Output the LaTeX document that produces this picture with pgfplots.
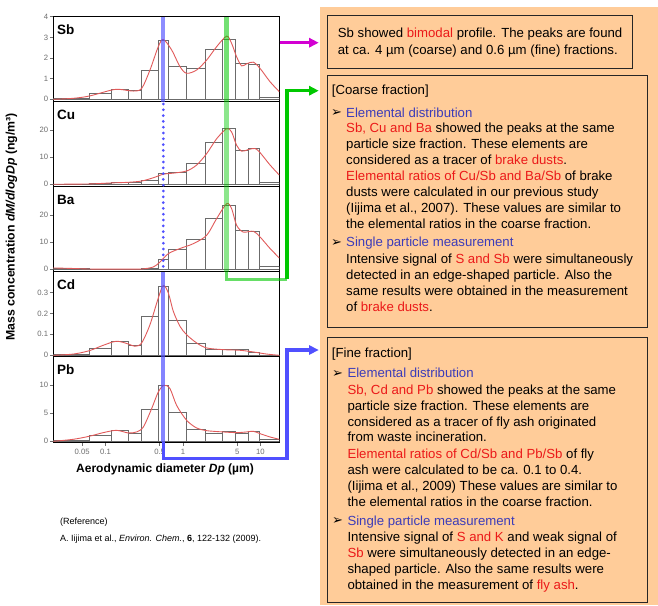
\documentclass[border=0pt]{standalone}
\usepackage{fontspec}
\setmainfont{Liberation Sans}
\newfontfamily\dejavu{DejaVu Sans}
\usepackage{pgfplots}
\pgfplotsset{compat=1.18}
\usetikzlibrary{arrows.meta}
\definecolor{peach}{RGB}{255,204,153}
\definecolor{tred}{RGB}{235,25,25}
\definecolor{tblue}{RGB}{60,60,185}
\definecolor{cred}{RGB}{225,90,90}
\definecolor{lblue}{RGB}{80,80,255}
\definecolor{lgreen}{RGB}{0,200,0}
\definecolor{lmag}{RGB}{210,0,210}
\definecolor{tickgray}{RGB}{110,110,110}
\newcommand{\R}[1]{\textcolor{tred}{#1}}
\newcommand{\tl}[3]{\node[anchor=base west, inner sep=0pt, font=\fontsize{13.2}{16}\selectfont] at (#1,-#2) {#3};}
\newcommand{\bul}[2]{\node[anchor=base west, inner sep=0pt, font=\dejavu\fontsize{13}{14}\selectfont] at (#1,-#2) {➢};}
\pgfplotsset{
  every axis/.append style={scale only axis, width=226pt, height=85.1pt,
    xmin=0.0212, xmax=17.5,
    axis line style={line width=1.1pt, black},
    tick align=outside, major tick length=3.5pt,
    tick style={tickgray, line width=0.5pt},
    ytick pos=left,
    yticklabel style={font=\fontsize{7.7}{8}\selectfont, text=tickgray, inner sep=1.5pt},
    xticklabel style={font=\fontsize{7.7}{8}\selectfont, text=tickgray},
    /pgf/number format/assume math mode=true},
  elhist/.style={ybar interval, draw=black!58, fill=none, line width=0.8pt},
  elfit/.style={cred, line width=0.9pt, smooth, mark=none}
}
\begin{document}
\begin{tikzpicture}[x=1pt,y=1pt]
\path[use as bounding box] (0,0) rectangle (658,-605);
\fill[white] (0,0) rectangle (658,-605);
\fill[peach] (320,-7) rectangle (658,-605);
\draw[black!85, line width=0.9pt] (327,-15) rectangle (632,-68);
\draw[black!85, line width=0.9pt] (327,-75) rectangle (647,-327);
\draw[black!85, line width=0.9pt] (327,-337) rectangle (647,-602);

% Sb
\begin{axis}[xmode=log, xtick=\empty, xminorticks=false, at={(53.3pt,-101.6pt)}, anchor=south west, ymin=-0.11, ymax=4.01, ytick={0,1,2,3,4}]
\addplot[elhist] coordinates {(0.0212,0.05) (0.0618,0.3) (0.120,0.48) (0.197,0.42) (0.293,1.42) (0.480,2.85) (0.647,1.6) (1.115,1.5) (1.92,2.42) (3.25,2.9) (4.69,1.74) (6.97,1.71) (9.66,0.08) (17.5,0)};
\addplot[elfit] coordinates {(0.0212,0.0) (0.0385,0.05) (0.0618,0.16) (0.120,0.45) (0.154,0.48) (0.229,0.40) (0.293,0.53) (0.375,1.42) (0.480,2.55) (0.557,2.9) (0.714,2.39) (0.915,1.58) (1.115,1.26) (1.50,1.42) (2.02,1.9) (2.72,2.55) (3.66,3.06) (4.24,2.71) (4.92,2.06) (5.71,1.62) (6.63,1.72) (8.08,1.8) (9.86,1.5) (13.3,0.85) (17.5,0.37)};
\end{axis}
% Cu
\begin{axis}[xmode=log, xtick=\empty, xminorticks=false, at={(53.3pt,-186.7pt)}, anchor=south west, ymin=-0.9, ymax=30.5, ytick={0,10,20}]
\addplot[elhist] coordinates {(0.0212,0.1) (0.0618,0.25) (0.120,0.6) (0.197,0.6) (0.293,1.6) (0.480,4.0) (0.647,4.4) (1.115,7.7) (1.92,15.6) (3.25,20.5) (4.69,12.6) (6.97,13.2) (9.66,0.8) (17.5,0)};
\addplot[elfit] coordinates {(0.0212,0) (0.0618,0.12) (0.120,0.5) (0.197,0.73) (0.293,1.2) (0.414,2.4) (0.557,3.7) (0.750,4.1) (1.115,4.9) (1.50,7.1) (2.02,11.3) (2.72,16.8) (3.66,20.5) (4.24,19.3) (4.92,14.4) (5.71,12.2) (6.97,12.8) (8.49,13.2) (9.86,11.7) (13.3,7.1) (17.5,3.4)};
\end{axis}
% Ba
\begin{axis}[xmode=log, xtick=\empty, xminorticks=false, at={(53.3pt,-271.8pt)}, anchor=south west, ymin=-0.93, ymax=30.6, ytick={0,10,20}]
\addplot[elhist] coordinates {(0.0212,0.4) (0.0618,0.1) (0.120,0.1) (0.197,0.1) (0.293,0.5) (0.480,3.7) (0.647,7.4) (1.115,11.1) (1.92,19.0) (3.25,23.7) (4.69,14.4) (6.97,14.1) (9.66,1.2) (17.5,0)};
\addplot[elfit] coordinates {(0.0212,0.5) (0.0385,0.3) (0.0618,0.1) (0.120,0.05) (0.197,0.05) (0.293,0.1) (0.414,0.86) (0.505,2.7) (0.647,5.8) (0.915,7.7) (1.36,9.5) (2.02,12.6) (2.72,18.8) (3.66,24.3) (4.24,22.5) (4.92,16.3) (6.00,13.8) (8.08,14.1) (9.86,12) (13.3,7.7) (17.5,4.2)};
\end{axis}
% Cd
\begin{axis}[xmode=log, xtick=\empty, xminorticks=false, at={(53.3pt,-356.9pt)}, anchor=south west, ymin=-0.0076, ymax=0.398, ytick={0,0.1,0.2,0.3}, yticklabels={0,0.1,0.2,0.3}]
\addplot[elhist] coordinates {(0.0212,0.005) (0.0618,0.035) (0.120,0.067) (0.197,0.046) (0.293,0.186) (0.480,0.33) (0.647,0.165) (1.115,0.059) (1.92,0.03) (3.25,0.027) (4.69,0.027) (6.97,0.016) (9.66,0.0) (17.5,0)};
\addplot[elfit] coordinates {(0.0212,0) (0.0385,0.006) (0.0618,0.022) (0.0938,0.048) (0.139,0.067) (0.197,0.054) (0.240,0.043) (0.293,0.059) (0.375,0.146) (0.480,0.273) (0.557,0.333) (0.647,0.297) (0.750,0.21) (0.915,0.138) (1.115,0.098) (1.50,0.059) (2.02,0.035) (3.31,0.027) (5.44,0.024) (8.08,0.016) (12.0,0.006) (17.5,0)};
\end{axis}
% Pb
\begin{axis}[xmode=log, xminorticks=false, at={(53.3pt,-442pt)}, anchor=south west, ymin=-0.125, ymax=15.07, ytick={0,5,10},
  xtick={0.05,0.1,0.5,1,5,10}, xticklabels={0.05,0.1,0.5,1,5,10}, xtick pos=bottom]
\addplot[elhist] coordinates {(0.0212,0.1) (0.0618,1.07) (0.120,1.96) (0.197,1.37) (0.293,5.7) (0.480,10.0) (0.647,5.24) (1.115,2.14) (1.92,1.5) (3.25,1.8) (4.69,1.37) (6.97,1.8) (9.66,0.3) (17.5,0)};
\addplot[elfit] coordinates {(0.0212,0) (0.0385,0.36) (0.0618,0.9) (0.0938,1.55) (0.139,1.96) (0.197,1.49) (0.252,1.67) (0.308,2.56) (0.394,5.83) (0.480,8.8) (0.569,10.0) (0.680,9.4) (0.829,6.4) (1.115,3.75) (1.50,2.38) (2.02,1.9) (3.31,1.67) (4.92,1.55) (6.63,1.67) (8.08,1.79) (9.86,1.37) (13.3,0.77) (17.5,0.36)};
\end{axis}

% panel labels
\foreach \lab/\top in {Sb/16.5, Cu/101.6, Ba/186.7, Cd/271.8, Pb/356.9}{
  \node[anchor=base west, inner sep=0pt, font=\fontsize{13.5}{14}\selectfont\bfseries] at (57,-\top-17.8) {\lab};
}
% axis labels
\node[font=\fontsize{12}{14}\selectfont\bfseries] at (165,-469) {Aerodynamic diameter \textit{Dp} (µm)};
\node[rotate=90, font=\fontsize{12.3}{14}\selectfont\bfseries] at (11.5,-227) {Mass concentration \textit{dM/dlogDp} (ng/m³)};

% overlay lines
\draw[lblue, opacity=0.65, line width=4.2pt] (163.3,-16.5) -- (163.3,-101.6);
\draw[lblue, line width=3pt, line cap=round, dash pattern=on 0pt off 5.8pt] (163.3,-104) -- (163.3,-271.8);
\draw[lblue, opacity=0.7, line width=4.2pt] (163.3,-271.8) -- (163.3,-442);
\draw[lblue, line width=3.2pt] (163.3,-442) -- (163.3,-458.7) -- (287,-458.7) -- (287,-350) -- (310,-350);
\fill[lblue] (318.5,-350) -- (309,-345) -- (309,-355) -- cycle;

\draw[lgreen, opacity=0.55, line width=4.5pt] (226.7,-16.5) -- (226.7,-101.6);
\draw[lgreen, opacity=0.45, line width=4.5pt] (226.7,-101.6) -- (226.7,-271.8);
\draw[lgreen, opacity=0.6, line width=3.2pt] (226.7,-271.8) -- (226.7,-279.3) -- (287,-279.3);
\draw[lgreen, line width=3.2pt] (287,-279.3) -- (287,-90.7) -- (310,-90.7);
\fill[lgreen] (318.5,-90.7) -- (309,-85.7) -- (309,-95.7) -- cycle;

\draw[lmag, line width=3pt] (279.5,-42.7) -- (310,-42.7);
\fill[lmag] (318.5,-42.7) -- (309,-37.7) -- (309,-47.7) -- cycle;

% reference text
\node[anchor=base west, inner sep=0pt, font=\fontsize{9}{11}\selectfont] at (60,-524) {(Reference)};
\node[anchor=base west, inner sep=0pt, font=\fontsize{9}{11}\selectfont] at (60,-541.5) {A. Iijima et al., \textit{Environ. Chem.}, \textbf{6}, 122-132 (2009).};

% box 1
\tl{337.7}{37.7}{Sb showed \R{bimodal} profile. The peaks are found}
\tl{337.7}{54.2}{at ca. 4 µm (coarse) and 0.6 µm (fine) fractions.}
% box 2
\tl{331.7}{94.5}{[Coarse fraction]}
\bul{331}{116.5}\tl{346}{117.2}{\textcolor{tblue}{Elemental distribution}}
\tl{346}{132.8}{\R{Sb, Cu and Ba} showed the peaks at the same}
\tl{346}{148.8}{particle size fraction. These elements are}
\tl{346}{164.8}{considered as a tracer of \R{brake dusts}.}
\tl{346}{180.8}{\R{Elemental ratios of Cu/Sb and Ba/Sb} of brake}
\tl{346}{196.8}{dusts were calculated in our previous study}
\tl{346}{212.8}{(Iijima et al., 2007). These values are similar to}
\tl{346}{228.8}{the elemental ratios in the coarse fraction.}
\bul{331}{246.1}\tl{346}{246.8}{\textcolor{tblue}{Single particle measurement}}
\tl{346}{263.5}{Intensive signal of \R{S and Sb} were simultaneously}
\tl{346}{279.5}{detected in an edge-shaped particle. Also the}
\tl{346}{295.5}{same results were obtained in the measurement}
\tl{346}{311.2}{of \R{brake dusts}.}
% box 3
\tl{331.7}{357.2}{[Fine fraction]}
\bul{332}{377.1}\tl{347.3}{377.8}{\textcolor{tblue}{Elemental distribution}}
\tl{347.3}{394.5}{\R{Sb, Cd and Pb} showed the peaks at the same}
\tl{347.3}{410.5}{particle size fraction. These elements are}
\tl{347.3}{426.2}{considered as a tracer of fly ash originated}
\tl{347.3}{441.8}{from waste incineration.}
\tl{347.3}{458.5}{\R{Elemental ratios of Cd/Sb and Pb/Sb} of fly}
\tl{347.3}{474.5}{ash were calculated to be ca. 0.1 to 0.4.}
\tl{347.3}{490.2}{(Iijima et al., 2009) These values are similar to}
\tl{347.3}{506.8}{the elemental ratios in the coarse fraction.}
\bul{332}{524.5}\tl{347.3}{525.2}{\textcolor{tblue}{Single particle measurement}}
\tl{347.3}{541.2}{Intensive signal of \R{S and K} and weak signal of}
\tl{347.3}{557.2}{\R{Sb} were simultaneously detected in an edge-}
\tl{347.3}{573.2}{shaped particle. Also the same results were}
\tl{347.3}{589.5}{obtained in the measurement of \R{fly ash}.}
\end{tikzpicture}
\end{document}
